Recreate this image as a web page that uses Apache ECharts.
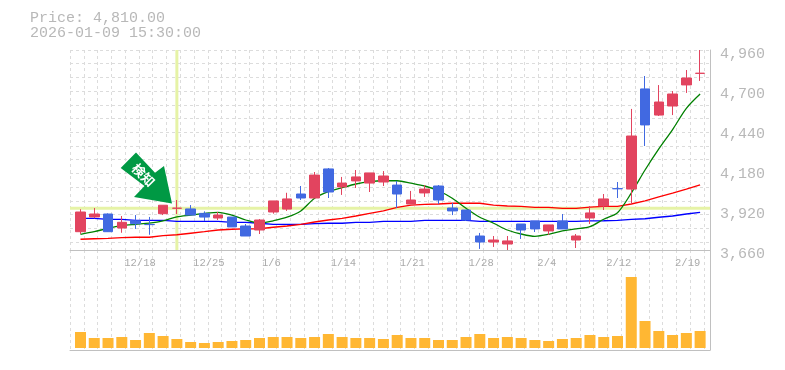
<!DOCTYPE html>
<html><head><meta charset="utf-8">
<style>html,body{margin:0;padding:0;background:#fff}#c{width:785px;height:370px}</style>
<script src="https://cdn.jsdelivr.net/npm/echarts@6/dist/echarts.min.js"></script>
</head><body><div id="c"></div>
<script>
const dates=['12/12','12/15','12/16','12/17','12/18','12/19','12/22','12/23','12/24','12/25','12/26','12/29','12/30','1/5','1/6','1/7','1/8','1/9','1/13','1/14','1/15','1/16','1/19','1/20','1/21','1/22','1/23','1/26','1/27','1/28','1/29','1/30','2/2','2/3','2/4','2/5','2/6','2/9','2/10','2/12','2/13','2/16','2/17','2/18','2/19','2/20'];
const priceTicks=[3660,3920,4180,4440,4700,4960];
// open, close, low, high
const candles=[[3779,3907,3764,3925],[3875,3894,3866,3933],[3894,3779,3777,3898],[3803,3840,3772,3881],[3850,3831,3797,3887],[3826,3825,3759,3875],[3896,3951,3887,3951],[3931,3932,3894,3985],[3927,3887,3887,3952],[3898,3874,3849,3911],[3868,3887,3855,3907],[3874,3810,3810,3874],[3816,3751,3751,3829],[3790,3855,3764,3861],[3907,3979,3896,3979],[3926,3992,3914,4032],[4024,3998,3985,4076],[3998,4147,3998,4167],[4187,4037,3998,4193],[4070,4095,4018,4135],[4109,4135,4063,4180],[4095,4161,4037,4161],[4102,4141,4076,4173],[4082,4024,3933,4109],[3959,3985,3959,4044],[4031,4056,4005,4082],[4076,3985,3959,4082],[3933,3914,3887,3966],[3920,3855,3849,3920],[3751,3712,3667,3771],[3712,3725,3680,3751],[3699,3719,3660,3751],[3829,3790,3732,3829],[3849,3797,3777,3849],[3784,3823,3758,3823],[3849,3797,3797,3894],[3725,3751,3673,3764],[3868,3901,3829,3946],[3946,3992,3920,4024],[4059,4058,3998,4102],[4056,4401,3959,4577],[4707,4473,4336,4791],[4537,4622,4531,4732],[4596,4674,4537,4693],[4733,4778,4681,4830],[4808,4809,4759,4960]];
const maShort=[3762,3779,3801,3818,3827,3835,3850,3876,3887,3898,3905,3887,3855,3834,3850,3873,3914,3996,4039,4065,4089,4104,4110,4110,4094,4076,4045,3996,3931,3873,3834,3790,3764,3749,3762,3785,3797,3812,3860,3902,4030,4180,4317,4443,4581,4674];
const maMid=[3730,3733,3736,3740,3743,3743,3753,3759,3769,3779,3790,3795,3797,3798,3808,3816,3827,3842,3855,3866,3881,3898,3915,3937,3952,3957,3959,3964,3964,3964,3952,3946,3944,3937,3937,3931,3931,3939,3944,3944,3959,3980,4006,4029,4055,4083];
const maLong=[3866,3866,3859,3859,3853,3853,3853,3846,3846,3846,3846,3840,3840,3834,3827,3827,3827,3831,3834,3834,3840,3840,3846,3846,3846,3853,3853,3853,3853,3846,3846,3846,3846,3846,3846,3846,3846,3849,3850,3853,3859,3863,3873,3881,3894,3905];
const volumes=[16,10,10,11,8,15,12,9,6,5,6,7,8,10,11,11,10,11,14,11,10,10,9,13,10,10,8,8,11,14,10,11,10,8,7,9,10,13,11,12,71,27,17,13,15,17];
const priceLevel=3931, markDate='12/23';
const titleLines='Price: 4,810.00\n2026-01-09 15:30:00', arrowText='検知';

const GRAY='#c0c0c0', DASH='#dcdcdc', TXT='#b8b8b8', MONO='"Liberation Mono","DejaVu Sans Mono",monospace';
const dashed={show:true,lineStyle:{color:DASH,type:[3,3],width:1}};
const off={show:false};
const vLines={type:'value',min:0,max:640,interval:13.78,axisLabel:off,axisTick:off,axisLine:{show:true,onZero:false,lineStyle:{color:GRAY,width:1}},splitLine:dashed};
const catAxis={type:'category',data:dates,boundaryGap:true,axisLine:off,axisTick:off,splitLine:off};
const chart=echarts.init(document.getElementById('c'),null,{renderer:'canvas'});
const mkLine=(name,data,color,smooth)=>({name,type:'line',xAxisIndex:1,yAxisIndex:2,data,symbol:'none',z:2,silent:true,smooth:smooth,lineStyle:{color,width:1.3},animation:false});
chart.setOption({
  animation:false,backgroundColor:'#fff',
  title:{text:titleLines,left:30,top:11,padding:0,textStyle:{fontFamily:MONO,fontSize:15,fontWeight:'normal',color:TXT,lineHeight:15}},
  grid:[
    {left:70,top:50,width:640,height:200},
    {left:73.6,top:50,width:633.4,height:200},
    {left:70,top:250,width:640,height:100},
    {left:73.6,top:250,width:633.4,height:98}
  ],
  xAxis:[
    Object.assign({},vLines,{gridIndex:0}),
    Object.assign({},catAxis,{gridIndex:1,axisLabel:{show:true,interval:(i)=>i%5===4,align:'left',padding:[0,0,0,-11.3],margin:8,fontFamily:MONO,fontSize:10.5,color:'#aaaaaa',hideOverlap:false}}),
    Object.assign({},vLines,{gridIndex:2}),
    Object.assign({},catAxis,{gridIndex:3,axisLabel:off})
  ],
  yAxis:[
    {type:'value',gridIndex:0,inverse:true,min:0,max:200,interval:13.71,axisLabel:off,axisTick:off,axisLine:off,splitLine:dashed},
    {type:'value',gridIndex:0,position:'right',min:3660,max:4960,splitLine:off,axisTick:off,
     axisLine:{show:true,onZero:false,lineStyle:{color:GRAY,width:1}},
     axisLabel:{show:true,customValues:priceTicks,margin:10,align:'left',verticalAlign:'top',padding:[-3,0,0,0],fontFamily:MONO,fontSize:15,color:TXT,
       formatter:(v)=>v.toLocaleString('en-US')}},
    {type:'value',gridIndex:1,min:3660,max:4960,axisLabel:off,axisTick:off,axisLine:off,splitLine:off},
    {type:'value',gridIndex:2,position:'right',min:0,max:100,axisLabel:off,axisTick:off,axisLine:{show:true,onZero:false,lineStyle:{color:GRAY,width:1}},splitLine:off},
    {type:'value',gridIndex:3,min:0,max:98,axisLabel:off,axisTick:off,axisLine:off,splitLine:off}
  ],
  series:[
    {name:'level',type:'line',xAxisIndex:0,yAxisIndex:1,data:[[0,priceLevel],[640,priceLevel]],symbol:'none',z:1,silent:true,lineStyle:{color:'#e6f3a6',width:3}},
    {name:'mark',type:'line',xAxisIndex:1,yAxisIndex:2,data:[[markDate,3660],[markDate,4960]],symbol:'none',z:1,silent:true,lineStyle:{color:'#e6f3a6',width:3}},
    mkLine('long',maLong,'#0000ff',false),
    mkLine('mid',maMid,'#ff0000',false),
    mkLine('short',maShort,'#008000',0.3),
    {name:'candle',type:'candlestick',xAxisIndex:1,yAxisIndex:2,data:candles,barWidth:10,z:3,silent:true,
     itemStyle:{color:'#e2445f',color0:'#4169e1',borderColor:'#e2445f',borderColor0:'#4169e1',borderWidth:1}},
    {name:'volume',type:'bar',xAxisIndex:3,yAxisIndex:4,data:volumes,barWidth:11,silent:true,itemStyle:{color:'#ffb733'}}
  ],
  graphic:[
    {type:'polygon',z:10,shape:{points:[[136,152.5],[155,172.7],[164,166],[172,203.5],[134,197],[144.5,186],[120.7,168]]},style:{fill:'#009944'}},
    {type:'text',z:11,x:143.5,y:175,rotation:-Math.PI/4,style:{text:arrowText,font:'bold 13px "Noto Sans CJK JP"',fill:'#fff',align:'center',verticalAlign:'middle'}}
  ]
});
</script></body></html>
